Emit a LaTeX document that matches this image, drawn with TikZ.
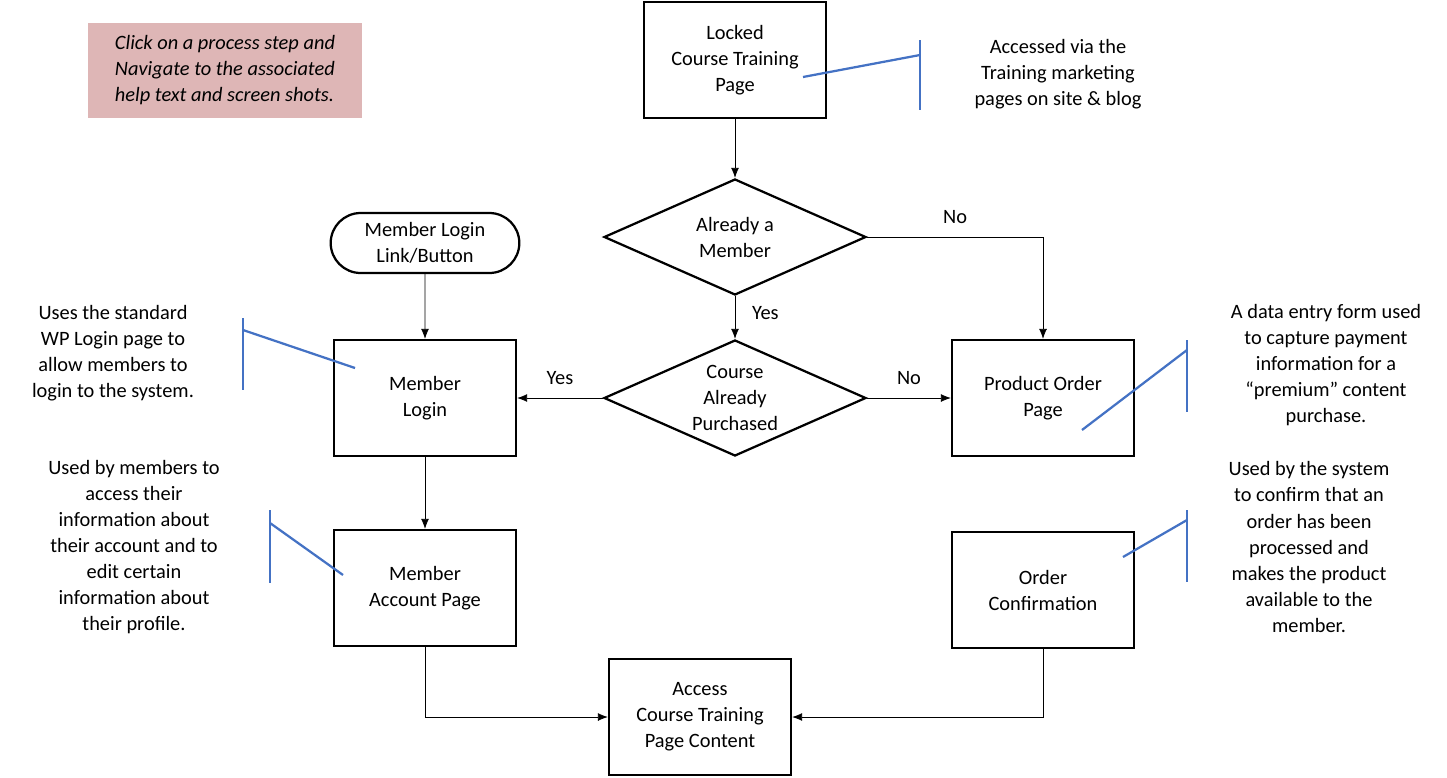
\documentclass[tikz,border=0pt]{standalone}
\usepackage{fontspec}
\setmainfont{Carlito}
\usetikzlibrary{shapes.geometric,shapes.misc,arrows.meta}
\definecolor{notepink}{RGB}{222,182,182}
\definecolor{annblue}{RGB}{68,114,196}
\begin{document}
\begin{tikzpicture}[x=0.25mm,y=-0.25mm,
    every node/.style={font=\fontsize{14.5}{18.5}\selectfont,align=center},
    procbox/.style={draw,line width=1.6pt,minimum width=45.5mm,minimum height=29mm,inner sep=0pt},
    choice/.style={draw,diamond,line width=1.6pt,minimum width=65.5mm,minimum height=29mm,inner sep=0pt},
    flow/.style={-{Latex[length=2.5mm,width=2mm]},line width=0.6pt},
    ann/.style={annblue,line width=1.6pt}]

    \useasboundingbox (0,0) rectangle (1447,777);

    % Note
    \node[fill=notepink,minimum width=68.5mm,minimum height=23.75mm,font=\fontsize{14.5}{18.5}\selectfont\itshape,align=left]
      (note) at (225,70) {Click on a process step and\\Navigate to the associated\\help text and screen shots.};

    % Process steps
    \node[procbox] (locked) at (735,60) {Locked\\Course Training\\Page};
    \node[choice,label=center:{Already a\\Member}] (member) at (735,237) {};
    \node[choice,label=center:{Course\\Already\\Purchased}] (purchased) at (735,398) {};
    \node[draw,line width=1.6pt,rounded rectangle,minimum width=49.5mm,minimum height=15mm] (link) at (425,243) {Member Login\\Link/Button};
    \node[procbox] (login) at (425,398) {Member\\Login};
    \node[procbox] (account) at (425,588) {Member\\Account Page};
    \node[procbox] (order) at (1043,398) {Product Order\\Page};
    \node[procbox] (confirm) at (1043,590) {Order\\Confirmation};
    \node[procbox] (access) at (700,717) {Access\\Course Training\\Page Content};

    % Connectors
    \draw[flow] (locked) -- (member);
    \draw[flow] (member) -- (purchased) node[pos=0.4,right=3mm] {Yes};
    \draw[flow] (member.east) -| (order.north) node[pos=0.25,above=2mm] {No};
    \draw[flow] (purchased.west) -- (login) node[midway,above=2mm] {Yes};
    \draw[flow] (purchased.east) -- (order) node[midway,above=2mm] {No};
    \draw[flow] (link) -- (login);
    \draw[flow] (login) -- (account);
    \draw[flow] (account.south) |- (access.west);
    \draw[flow] (confirm.south) |- (access.east);

    % Annotations
    \coordinate (a1) at (920,55);
    \draw[ann] (920,40) -- (920,110);
    \draw[ann] (803,77) -- (a1);
    \node (t1) at (1058,74) {Accessed via the\\Training marketing\\pages on site \& blog};

    \coordinate (a2) at (243,330);
    \draw[ann] (243,318) -- (243,390);
    \draw[ann] (355,368) -- (a2);
    \node (t2) at (113,353) {Uses the standard\\WP Login page to\\allow members to\\login to the system.};

    \coordinate (a3) at (270,523);
    \draw[ann] (270,510) -- (270,583);
    \draw[ann] (343,575) -- (a3);
    \node (t3) at (134,547) {Used by members to\\access their\\information about\\their account and to\\edit certain\\information about\\their profile.};

    \coordinate (a4) at (1187,350);
    \draw[ann] (1187,340) -- (1187,412);
    \draw[ann] (1082,430) -- (a4);
    \node (t4) at (1326,365) {A data entry form used\\to capture payment\\information for a\\“premium” content\\purchase.};

    \coordinate (a5) at (1187,520);
    \draw[ann] (1187,510) -- (1187,582);
    \draw[ann] (1123,557) -- (a5);
    \node (t5) at (1309,547) {Used by the system\\to confirm that an\\order has been\\processed and\\makes the product\\available to the\\member.};

\end{tikzpicture}
\end{document}
